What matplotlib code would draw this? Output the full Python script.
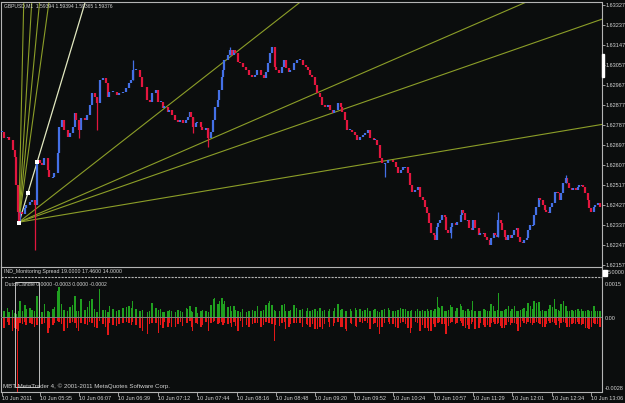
import matplotlib
matplotlib.use("Agg")
import matplotlib.pyplot as plt
from matplotlib.patches import Rectangle
from matplotlib.lines import Line2D

# ---------------- data (minutes of 10 Jun 2011, GBPUSD M1) ----------------
times = [304, 306, 309, 310, 313, 315, 316, 317, 318, 319, 321, 323, 324, 327, 329, 331, 333, 335, 337, 339,
         342, 343, 346, 347, 350, 351, 353, 355, 358, 360, 362, 364, 365, 367, 369, 372, 374, 376, 378, 380,
         382, 384, 387, 389, 391, 392, 395, 398, 400, 403, 406, 408, 410, 411, 414, 417, 419, 423,
         425, 427, 430, 432, 434, 436, 437, 440, 441, 443, 446, 448, 450, 452, 455, 456, 458, 459, 460, 463,
         464, 467, 468, 471, 473, 475, 477, 478, 481, 482, 484, 485, 486, 489, 491, 492, 494, 495, 497, 499,
         501, 504, 506, 509, 511, 513, 516, 518, 520, 522, 523, 525, 527, 528, 531, 533, 535, 536, 539, 540,
         543, 545,
         548, 550, 553, 554, 556, 558, 560, 562, 564, 566, 568, 571, 572, 575, 576, 579, 581, 582, 585, 586,
         589, 590, 593, 594, 597, 599, 601, 603, 605, 608, 609, 611, 613, 615, 617, 620, 621, 624, 626, 628,
         630, 632, 634, 636, 638, 639, 642, 644, 646, 648, 650, 652, 653, 655, 657, 658, 660, 661, 662, 664,
         666, 667, 669,
         671, 672, 675, 676, 679, 680, 681, 683, 685, 686, 688, 689, 691, 694, 695, 698, 699, 701, 703, 704,
         706, 707, 709, 710, 712, 713, 715, 716, 718, 720, 721, 723, 725, 726, 728, 730, 731, 733, 734, 736,
         738, 739, 741, 743, 744, 746, 748, 749, 751, 752, 754, 756, 757, 759, 760, 761, 763, 765, 766, 768,
         770, 771, 773, 775, 776, 778, 779, 781, 783, 784, 786, 788, 789, 791, 793]

closes = [1.62756, 1.62729, 1.62733, 1.62720, 1.62675, 1.62643, 1.62517, 1.62396, 1.62351, 1.62396,
          1.62387, 1.62414, 1.62427, 1.62441, 1.62450, 1.62427, 1.62630, 1.62616, 1.62607, 1.62639,
          1.62585, 1.62553, 1.62553, 1.62571, 1.62661, 1.62778, 1.62810, 1.62765, 1.62733, 1.62751,
          1.62778, 1.62841, 1.62810, 1.62765, 1.62819, 1.62810, 1.62832, 1.62877, 1.62931, 1.62913,
          1.62886, 1.62990, 1.62999, 1.62976, 1.62913, 1.62936, 1.62936, 1.62922, 1.62931, 1.62936,
          1.62954, 1.62976, 1.62990, 1.63035, 1.63035, 1.63003, 1.62958, 1.62900,
          1.62891, 1.62931, 1.62945, 1.62891, 1.62891, 1.62864, 1.62868, 1.62846, 1.62855, 1.62832,
          1.62810, 1.62801, 1.62810, 1.62796, 1.62810, 1.62823, 1.62846, 1.62823, 1.62778, 1.62796,
          1.62801, 1.62778, 1.62765, 1.62774, 1.62729, 1.62756, 1.62810, 1.62868, 1.62900, 1.62945,
          1.63003, 1.63035, 1.63080, 1.63102, 1.63125, 1.63102, 1.63125, 1.63111, 1.63071, 1.63066,
          1.63048, 1.63035, 1.63012, 1.63003, 1.63012, 1.63035, 1.63012, 1.62999, 1.63026, 1.63066,
          1.63111, 1.63138, 1.63048, 1.63035, 1.63021, 1.63048, 1.63080, 1.63044, 1.63026, 1.63035,
          1.63066, 1.63080,
          1.63080, 1.63057, 1.63048, 1.63035, 1.63012, 1.63003, 1.62967, 1.62931, 1.62913, 1.62877,
          1.62868, 1.62877, 1.62855, 1.62841, 1.62855, 1.62886, 1.62868, 1.62846, 1.62810, 1.62765,
          1.62765, 1.62756, 1.62742, 1.62720, 1.62733, 1.62742, 1.62751, 1.62765, 1.62729, 1.62720,
          1.62720, 1.62697, 1.62639, 1.62616, 1.62616, 1.62630, 1.62630, 1.62621, 1.62598, 1.62571,
          1.62585, 1.62598, 1.62598, 1.62571, 1.62517, 1.62486, 1.62495, 1.62508, 1.62463, 1.62450,
          1.62418, 1.62391, 1.62346, 1.62301, 1.62292, 1.62270, 1.62328, 1.62346, 1.62360, 1.62382,
          1.62373, 1.62315, 1.62301,
          1.62328, 1.62346, 1.62337, 1.62351, 1.62382, 1.62405, 1.62391, 1.62360, 1.62360, 1.62324,
          1.62315, 1.62360, 1.62324, 1.62292, 1.62301, 1.62301, 1.62283, 1.62270, 1.62247, 1.62279,
          1.62301, 1.62292, 1.62283, 1.62360, 1.62346, 1.62315, 1.62283, 1.62270, 1.62292, 1.62279,
          1.62292, 1.62315, 1.62324, 1.62283, 1.62261, 1.62256, 1.62270, 1.62279, 1.62315, 1.62337,
          1.62337, 1.62382, 1.62418, 1.62459, 1.62450, 1.62427, 1.62405, 1.62396, 1.62391, 1.62418,
          1.62436, 1.62486, 1.62486, 1.62481, 1.62450, 1.62481, 1.62526, 1.62549, 1.62526, 1.62504,
          1.62495, 1.62504, 1.62495, 1.62508, 1.62517, 1.62517, 1.62508, 1.62481, 1.62450, 1.62414,
          1.62396, 1.62418, 1.62427, 1.62436, 1.62418]

# notable wicks (bar time, extreme price)
wick_times = [318, 331, 367, 382, 411, 460, 473, 491, 617, 671, 710, 765]
wick_prices = [1.62342, 1.62225, 1.62729, 1.62765, 1.63080, 1.62751, 1.62688, 1.63138, 1.62553, 1.62279,
               1.62396, 1.62562]

# drawing objects: trend line (two anchors) and fan from the low
trend_times = [318, 333]
trend_prices = [1.62346, 1.62620]
fan_anchor_time = 318
fan_anchor_price = 1.62351
fan_slopes = [2.42e-3, 9.3e-4, 5.8e-4, 4.0e-4, 4.29e-5, 2.38e-5, 1.91e-5, 0.92e-5]  # price per minute

price_ticks = [1.63327, 1.63237, 1.63147, 1.63057, 1.62967, 1.62877, 1.62787, 1.62697,
               1.62607, 1.62517, 1.62427, 1.62337, 1.62247, 1.62157]
time_ticks = [304, 335, 367, 399, 432, 464, 496, 528, 560, 592, 624, 657, 689, 721, 754, 786]
time_labels = ['10 Jun 2011', '10 Jun 05:35', '10 Jun 06:07', '10 Jun 06:39', '10 Jun 07:12',
               '10 Jun 07:44', '10 Jun 08:16', '10 Jun 08:48', '10 Jun 09:20', '10 Jun 09:52',
               '10 Jun 10:24', '10 Jun 10:57', '10 Jun 11:29', '10 Jun 12:01', '10 Jun 12:34',
               '10 Jun 13:06']

# DutchCandle indicator, in points (1e-5), one pair per bar of `times`
dc_up_pts = [30, 22, 35, 18, 28, 15, 12, 0, 25, 60, 24, 45, 32, 35, 26, 22, 80, 28, 18, 50,
             22, 20, 30, 40, 100, 115, 50, 28, 22, 40, 45, 80, 25, 22, 70, 28, 40, 60, 70, 32,
             20, 105, 26, 28, 18, 42, 30, 25, 26, 36, 40, 42, 35, 62, 30, 22, 28, 18,
             22, 55, 35, 28, 30, 20, 18, 25, 26, 22, 18, 28, 25, 20, 35, 32, 42, 22, 18, 38,
             15, 25, 28, 25, 20, 45, 70, 72, 50, 60, 72, 50, 60, 40, 42, 25, 42, 28, 22, 18,
             30, 20, 25, 28, 25, 42, 22, 28, 45, 55, 60, 45, 28, 22, 25, 45, 50, 22, 25, 26, 48, 35,
             28, 30, 25, 35, 22, 28, 30, 25, 36, 22, 28, 25, 30, 22, 35, 50, 28, 30, 22, 25,
             30, 25, 35, 28, 32, 25, 26, 35, 22, 28, 30, 25, 20, 28, 30, 35, 28, 25, 22, 28,
             35, 32, 30, 25, 22, 28, 25, 32, 22, 28, 25, 30, 22, 28, 25, 30, 75, 38, 35, 42, 25, 22, 28,
             45, 38, 25, 35, 50, 42, 28, 22, 30, 25, 28, 62, 22, 25, 25, 30, 28, 22, 25, 50,
             42, 25, 28, 90, 25, 22, 28, 30, 42, 25, 32, 42, 25, 22, 28, 30, 35, 25, 55, 42,
             30, 62, 55, 58, 25, 28, 22, 25, 30, 45, 38, 68, 30, 28, 22, 50, 62, 42, 25, 22,
             28, 25, 28, 32, 25, 30, 25, 22, 28, 25, 22, 42, 25, 25, 22]
dc_dn_pts = [-28, -40, -18, -30, -50, -42, -45, -280, -50, -22, -25, -18, -28, -22, -25, -36, -28, -32, -25, -20,
             -60, -42, -28, -22, -15, -18, -25, -52, -42, -22, -18, -20, -40, -52, -22, -25, -28, -18, -22, -35,
             -40, -15, -25, -36, -65, -22, -28, -32, -25, -22, -18, -20, -28, -18, -30, -42, -52, -62,
             -25, -20, -22, -60, -28, -40, -18, -36, -20, -36, -35, -25, -18, -32, -22, -20, -15, -36, -52, -22,
             -25, -36, -30, -18, -52, -22, -18, -15, -25, -20, -18, -28, -22, -25, -20, -36, -18, -32, -50, -15,
             -35, -30, -36, -25, -22, -20, -36, -30, -18, -22, -20, -25, -90, -30, -32, -22, -18, -45, -35, -25,
             -20, -22,
             -22, -36, -25, -30, -36, -25, -45, -45, -35, -45, -25, -18, -36, -32, -20, -18, -35, -36, -45, -52,
             -22, -25, -32, -36, -18, -20, -15, -22, -45, -25, -20, -36, -62, -36, -22, -18, -25, -25, -36, -40,
             -20, -18, -25, -40, -60, -42, -18, -22, -52, -30, -42, -40, -52, -52, -25, -36, -20, -22, -18, -25,
             -25, -62, -32,
             -22, -18, -25, -20, -15, -22, -32, -42, -28, -45, -25, -18, -45, -42, -22, -28, -35, -30, -36, -20,
             -18, -25, -25, -22, -32, -42, -42, -30, -18, -30, -22, -20, -25, -50, -36, -15, -22, -25, -18, -20,
             -28, -22, -18, -20, -25, -36, -36, -25, -15, -22, -18, -20, -28, -15, -42, -22, -18, -20, -36, -36,
             -25, -22, -25, -18, -25, -28, -25, -40, -42, -45, -35, -22, -25, -25, -35]
dc_ticks = [0.0015, 0.0, -0.0028]
dc_tick_labels = ['0.0015', '0.00', '-0.0028']

header = 'GBPUSD,M1  1.59394 1.59394 1.59365 1.59376'
spread_text = 'IND_Monitoring Spread 19.0000 17.4600 14.0000'
spread_scale = '5.0000'
dc_text = 'DutchCandle 0.0000 -0.0003 0.0000 -0.0002'
footer = 'MBT MetaTrader 4, \u00a9 2001-2011 MetaQuotes Software Corp.'

# ---------------- style ----------------
W, H = 625, 403
BG = '#0b0d0d'
FG = '#d4d4d4'
FRAME = '#b4b4b4'
UP = '#4470e6'
DN = '#e3163e'
FAN = '#8c9e28'
plt.rcParams['font.family'] = ['Liberation Sans', 'DejaVu Sans']
FS = 4.0

fig = plt.figure(figsize=(W / 100, H / 100), dpi=100)
fig.patch.set_facecolor(BG)


def px_axes(x0, y0, x1, y1):
    a = fig.add_axes([x0 / W, 1 - y1 / H, (x1 - x0) / W, (y1 - y0) / H])
    a.set_facecolor(BG)
    for s in a.spines.values():
        s.set_color(FRAME)
        s.set_linewidth(0.8)
    return a


def ftext(x, y, s, **kw):
    kw.setdefault('color', FG)
    kw.setdefault('fontsize', FS)
    kw.setdefault('va', 'center')
    fig.text(x / W, 1 - y / H, s, **kw)


def fline(x0, y0, x1, y1, **kw):
    kw.setdefault('color', FRAME)
    kw.setdefault('lw', 0.8)
    fig.add_artist(Line2D([x0 / W, x1 / W], [1 - y0 / H, 1 - y1 / H], **kw))


XLIM = (303.9, 794.2)

# ---------------- main price panel ----------------
ax = px_axes(1.5, 1.5, 601.5, 266.5)
ax.set_xlim(XLIM)
ax.set_ylim(1.621525, 1.633405)
ax.set_xticks([])
ax.yaxis.tick_right()
ax.set_yticks(price_ticks)
ax.set_yticklabels([f'{p:.5f}' for p in price_ticks])
ax.tick_params(axis='y', colors=FRAME, labelcolor=FG, labelsize=FS, length=2, width=0.6, pad=1.0)

# fan lines
for s in fan_slopes:
    t_end = XLIM[1] + 50
    ax.plot([fan_anchor_time, t_end], [fan_anchor_price, fan_anchor_price + s * (t_end - fan_anchor_time)],
            color=FAN, lw=0.8, zorder=1)
# trend line (ray)
ts = (trend_prices[1] - trend_prices[0]) / (trend_times[1] - trend_times[0])
ax.plot([trend_times[0], trend_times[0] + 200], [trend_prices[0], trend_prices[0] + ts * 200],
        color='#e2e8c0', lw=0.9, zorder=2)

# candles
prev = closes[0]
for t, c in zip(times, closes):
    col = UP if c >= prev else DN
    lo, hi = min(prev, c), max(prev, c)
    if hi - lo < 0.00004:
        hi += 0.00002
        lo -= 0.00002
    ax.vlines(t, lo, hi, color=col, lw=1.6, zorder=3)
    prev = c
idx = {t: i for i, t in enumerate(times)}
for t, p in zip(wick_times, wick_prices):
    i = idx[t]
    o = closes[i - 1] if i > 0 else closes[i]
    c = closes[i]
    col = UP if c >= o else DN
    ax.vlines(t, min(o, c, p), max(o, c, p), color=col, lw=0.9, zorder=3)

# handles of the trend line
mid_t = (trend_times[0] + trend_times[1]) / 2
mid_p = (trend_prices[0] + trend_prices[1]) / 2
ax.plot([trend_times[0], mid_t, trend_times[1]], [trend_prices[0], mid_p, trend_prices[1]], 's',
        color='white', ms=2.6, mew=0, zorder=5)

# current price marker on the scale
fig.patches.append(Rectangle((601.5 / W, 1 - 77 / H), 2.5 / W, 23 / H, transform=fig.transFigure,
                             color='white', zorder=5))

# ---------------- spread panel (empty) ----------------
fline(1.5, 277, 602, 277, ls=(0, (2, 1)))
fline(1.5, 266, 1.5, 278)
fline(601.5, 266, 601.5, 278)
ftext(4, 272, spread_text, fontsize=3.8)
fig.patches.append(Rectangle((603 / W, 1 - 276 / H), 3.5 / W, 6 / H, transform=fig.transFigure,
                             color='white', zorder=5))
ftext(607.5, 273, spread_scale, fontsize=3.9)

# ---------------- DutchCandle panel ----------------
ad = px_axes(1.5, 277.5, 601.5, 391.5)
ad.set_xlim(XLIM)
ad.set_ylim(-0.0028, 0.0015)
ad.spines['top'].set_visible(False)
dc_up = [v * 1e-5 for v in dc_up_pts]
dc_dn = [v * 1e-5 for v in dc_dn_pts]
ad.bar(times, dc_up, width=1.2, color='#20a020', zorder=2)
ad.bar(times, dc_dn, width=1.2, color='#e41818', zorder=2)
ad.axhline(0, color='#808080', lw=0.7, zorder=3)
ad.set_yticks([])
ad.set_xticks(time_ticks)
ad.set_xticklabels(time_labels)
ad.tick_params(axis='x', colors=FRAME, labelcolor=FG, labelsize=4.0, length=3, width=0.6, pad=0.3)
for lab in ad.get_xticklabels():
    lab.set_horizontalalignment('left')

# selection rectangle near the start
fig.patches.append(Rectangle((15 / W, 1 - 387 / H), 24 / W, 105 / H, transform=fig.transFigure,
                             fill=False, ec='#c0c0c0', lw=0.7, zorder=1))

for lab, y in zip(dc_tick_labels, [284, 318, 388]):
    ftext(605, y, lab)

ftext(4, 6, header, fontsize=3.6)
ftext(5, 285, dc_text, fontsize=3.7)
ftext(3, 386, footer, fontsize=4.4)

fig.savefig('out.png', dpi=100, facecolor=BG)
